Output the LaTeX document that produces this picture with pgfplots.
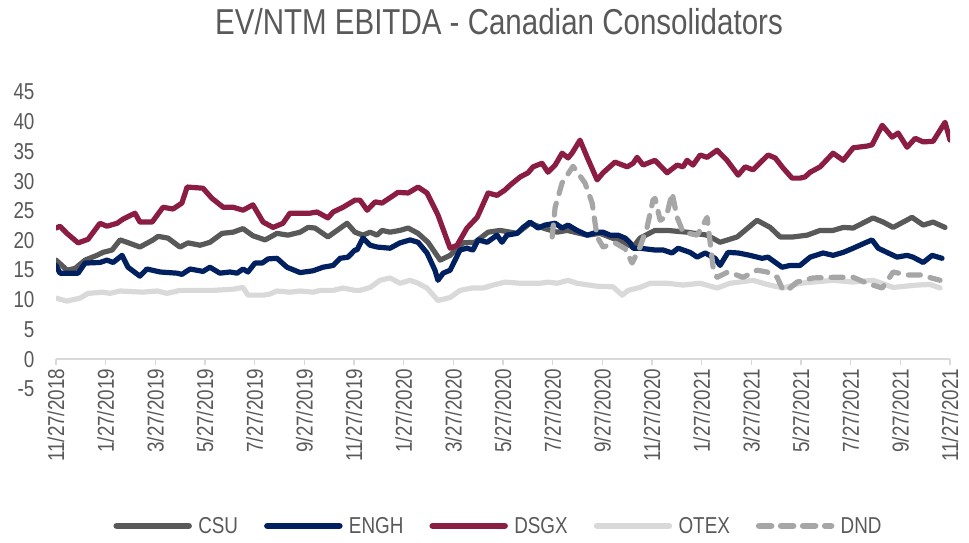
\documentclass[border=0pt]{standalone}
\usepackage{fontspec}
\setmainfont{Liberation Sans}[FakeStretch=0.82]
\usepackage{pgfplots}
\pgfplotsset{compat=1.18}
\definecolor{csu}{HTML}{595959}
\definecolor{engh}{HTML}{002060}
\definecolor{dsgx}{HTML}{8B1C42}
\definecolor{otex}{HTML}{D9D9D9}
\definecolor{dnd}{HTML}{A6A6A6}
\definecolor{txt}{HTML}{595959}
\begin{document}
\begin{tikzpicture}
\path[use as bounding box] (0,0) rectangle (969bp,543bp);
\node[text=txt, font=\fontsize{36bp}{40bp}\selectfont] at (499bp,521bp) {EV/NTM EBITDA - Canadian Consolidators};
\begin{axis}[
  at={(56bp,154bp)}, anchor=south west,
  scale only axis, width=894bp, height=297bp,
  xmin=0, xmax=36, ymin=-5, ymax=45,
  axis x line=middle, axis y line=left,
  x axis line style={-, draw=otex, line width=2bp},
  y axis line style={draw=none},
  hide obscured x ticks=false, hide obscured y ticks=false,
  xtick={0,2,...,36},
  xticklabels={11/27/2018,1/27/2019,3/27/2019,5/27/2019,7/27/2019,9/27/2019,11/27/2019,1/27/2020,3/27/2020,5/27/2020,7/27/2020,9/27/2020,11/27/2020,1/27/2021,3/27/2021,5/27/2021,7/27/2021,9/27/2021,11/27/2021},
  ytick={-5,0,...,45},
  tick align=outside,
  major tick length=6bp,
  xtick style={draw=otex, line width=1.5bp},
  ytick style={draw=none},
  /pgf/number format/assume math mode=true,
  xticklabel style={rotate=90, anchor=east, font=\fontsize{23bp}{26bp}\selectfont, text=txt},
  yticklabel style={font=\fontsize{23bp}{26bp}\selectfont, text=txt, xshift=-12bp},
  legend columns=5,
  legend style={font=\fontsize{23bp}{26bp}\selectfont, text=txt, draw=none, fill=none,
    at={(0.495,-0.461)}, anchor=center,
    /tikz/every even column/.append style={column sep=24bp}},
  legend image code/.code={\draw[#1, line width=6.5bp] (0bp,0bp) -- (72bp,0bp); \path (77bp,0bp);},
  every axis plot/.append style={line width=5.2bp, line join=round, line cap=round},
]
\addplot[csu] coordinates {(0,16.7) (0.24,15.8) (0.44,15.0) (0.77,15.3) (1.17,16.7) (1.65,17.5) (1.89,18.0) (2.26,18.4) (2.58,20.1) (2.86,19.7) (3.38,18.9) (3.91,20.1) (4.11,20.7) (4.51,20.4) (4.99,18.9) (5.32,19.6) (5.80,19.2) (6.20,19.7) (6.69,21.2) (7.13,21.4) (7.53,22.0) (7.93,20.8) (8.42,20.1) (8.90,21.2) (9.34,20.9) (9.83,21.4) (10.15,22.2) (10.43,22.1) (10.95,20.6) (11.32,21.7) (11.72,22.9) (12.04,21.4) (12.36,20.9) (12.65,21.4) (12.93,20.9) (13.13,21.7) (13.45,21.4) (13.85,21.7) (14.18,22.1) (14.58,21.2) (14.98,19.7) (15.47,16.7) (15.87,17.5) (16.39,19.6) (16.87,19.7) (17.40,21.4) (17.88,21.7) (18.57,21.2) (19.09,22.9) (19.61,22.1) (20.18,21.4) (20.58,21.7) (21.39,20.9) (21.91,21.2) (22.59,20.1) (23.24,18.9) (23.52,20.4) (24.12,21.7) (24.61,21.7) (25.41,21.4) (26.22,20.9) (26.74,19.7) (27.43,20.6) (28.23,23.4) (28.76,22.2) (29.16,20.6) (29.68,20.6) (30.25,20.9) (30.77,21.7) (31.29,21.7) (31.70,22.2) (32.10,22.1) (32.90,23.8) (33.31,23.1) (33.71,22.2) (34.47,23.9) (34.92,22.6) (35.32,23.1) (35.80,22.2)};
\addlegendentry{CSU}
\addplot[engh] coordinates {(0,15.8) (0.16,14.5) (0.89,14.5) (1.17,16.2) (1.77,16.3) (2.05,16.7) (2.30,16.3) (2.66,17.5) (2.90,15.5) (3.38,14.0) (3.66,15.2) (4.19,14.7) (4.87,14.5) (5.07,14.3) (5.40,15.2) (5.92,14.8) (6.20,15.5) (6.60,14.5) (7.01,14.7) (7.29,14.5) (7.53,15.2) (7.73,14.7) (8.01,16.2) (8.30,16.2) (8.54,16.9) (8.90,17.0) (9.30,15.5) (9.83,14.6) (10.35,14.9) (10.75,15.5) (11.16,15.8) (11.44,17.0) (11.76,17.2) (12.04,18.4) (12.12,18.4) (12.36,20.4) (12.65,19.2) (12.93,18.9) (13.45,18.7) (13.85,19.6) (14.26,20.1) (14.58,19.7) (14.94,17.9) (15.26,15.0) (15.38,13.3) (15.59,14.5) (15.87,15.0) (16.27,18.4) (16.55,18.7) (16.79,18.4) (17.00,20.1) (17.36,19.7) (17.76,20.9) (17.96,19.7) (18.16,20.9) (18.57,21.2) (18.81,22.2) (19.09,23.1) (19.41,22.1) (19.69,22.6) (20.10,22.9) (20.38,22.1) (20.62,22.6) (20.98,21.7) (21.39,20.9) (21.79,21.4) (22.03,21.4) (22.31,20.9) (22.63,20.9) (22.92,20.4) (23.12,19.6) (23.24,18.7) (23.52,18.7) (24.12,18.4) (24.45,18.4) (24.81,17.9) (25.05,18.7) (25.53,18.0) (25.82,17.2) (26.14,17.9) (26.54,17.0) (26.74,15.8) (27.06,18.0) (27.47,17.9) (27.95,17.5) (28.43,17.0) (28.67,17.2) (29.24,15.5) (29.56,15.8) (29.96,15.8) (30.37,17.2) (30.89,17.9) (31.29,17.5) (31.70,18.0) (32.10,18.7) (32.58,19.6) (32.86,20.1) (33.11,18.7) (33.51,17.9) (33.87,17.2) (34.27,17.5) (34.51,17.2) (34.92,16.3) (35.28,17.5) (35.68,17.0)};
\addlegendentry{ENGH}
\addplot[dsgx] coordinates {(0,22.1) (0.16,22.4) (0.44,21.2) (0.89,19.6) (1.29,20.2) (1.77,22.9) (2.05,22.4) (2.46,22.9) (2.70,23.6) (3.18,24.6) (3.38,23.1) (3.87,23.1) (4.31,25.6) (4.71,25.3) (5.07,26.3) (5.28,29.0) (5.92,28.8) (6.28,27.1) (6.73,25.6) (7.13,25.6) (7.53,25.1) (7.93,26.0) (8.34,23.1) (8.74,22.2) (9.14,22.9) (9.42,24.6) (10.23,24.6) (10.51,24.8) (10.95,23.8) (11.16,24.8) (11.56,25.6) (12.04,26.8) (12.24,26.8) (12.53,25.1) (12.85,26.5) (13.13,26.3) (13.77,28.1) (14.18,28.0) (14.58,29.0) (14.94,28.0) (15.38,24.3) (15.87,18.7) (16.15,19.2) (16.55,22.1) (16.96,23.9) (17.40,28.0) (17.76,27.6) (18.08,28.5) (18.28,29.3) (18.69,30.7) (19.01,31.4) (19.21,32.4) (19.57,33.0) (19.81,31.5) (20.10,32.7) (20.38,34.7) (20.62,33.9) (20.78,34.7) (21.10,36.9) (21.39,34.0) (21.79,30.2) (22.03,31.4) (22.51,33.2) (23.00,32.4) (23.24,33.0) (23.40,34.0) (23.64,32.7) (24.12,33.5) (24.61,31.4) (25.01,32.7) (25.25,32.4) (25.41,33.5) (25.65,32.7) (25.94,34.4) (26.22,34.0) (26.62,35.2) (27.02,33.5) (27.47,31.0) (27.75,32.4) (28.07,31.9) (28.67,34.4) (28.96,33.9) (29.28,32.2) (29.64,30.5) (29.96,30.5) (30.16,30.7) (30.37,31.5) (30.77,32.4) (31.29,34.7) (31.70,33.5) (32.10,35.6) (32.66,35.9) (32.86,36.1) (33.27,39.4) (33.67,37.4) (33.91,38.1) (34.27,35.7) (34.60,37.2) (34.92,36.6) (35.32,36.7) (35.80,39.9) (36.0,36.9)};
\addlegendentry{DSGX}
\addplot[otex] coordinates {(0,10.3) (0.44,9.8) (0.97,10.3) (1.29,11.1) (1.89,11.3) (2.17,11.1) (2.58,11.5) (3.50,11.3) (4.07,11.5) (4.47,11.1) (4.99,11.6) (5.80,11.6) (6.32,11.6) (7.13,11.8) (7.53,12.1) (7.73,10.8) (8.34,10.8) (8.62,11.0) (8.90,11.5) (9.42,11.3) (9.83,11.5) (10.35,11.3) (10.63,11.6) (11.16,11.6) (11.56,12.0) (12.04,11.6) (12.24,11.6) (12.65,12.1) (13.05,13.3) (13.45,13.7) (13.85,12.8) (14.26,13.3) (14.58,12.8) (14.94,12.0) (15.38,9.9) (15.87,10.4) (16.27,11.6) (16.75,12.0) (17.20,12.0) (17.60,12.5) (18.08,13.0) (18.69,12.8) (19.49,12.8) (19.81,13.0) (20.18,12.8) (20.62,13.3) (20.98,12.8) (21.79,12.3) (22.43,12.2) (22.80,10.8) (23.04,11.6) (23.52,12.1) (23.92,12.8) (24.61,12.8) (25.25,12.5) (25.94,12.8) (26.62,12.0) (27.14,12.8) (28.07,13.3) (28.63,12.6) (29.28,12.0) (29.96,12.8) (31.29,13.3) (32.10,13.0) (32.90,13.3) (33.71,12.1) (34.68,12.5) (35.20,12.6) (35.60,12.0)};
\addlegendentry{OTEX}
\addplot[dnd, dash pattern=on 12bp off 10bp] coordinates {(19.98,20.6) (20.10,25.6) (20.38,29.7) (20.82,32.5) (21.30,29.7) (21.59,26.3) (21.79,20.6) (22.03,18.9) (22.51,19.6) (22.92,18.6) (23.20,16.2) (23.52,18.9) (23.80,22.2) (24.04,26.8) (24.12,27.1) (24.33,23.4) (24.53,23.9) (24.61,24.6) (24.81,28.0) (25.01,23.9) (25.25,21.4) (25.82,20.9) (26.22,23.9) (26.46,15.5) (26.62,13.8) (27.06,14.7) (27.67,13.8) (28.23,15.0) (28.63,14.7) (29.04,13.8) (29.28,11.6) (29.56,12.0) (29.84,13.0) (30.49,13.7) (31.29,13.8) (32.10,13.8) (32.66,12.8) (33.27,12.0) (33.71,14.7) (34.27,14.2) (34.80,14.2) (35.60,13.3)};
\addlegendentry{DND}
\end{axis}
\end{tikzpicture}
\end{document}
